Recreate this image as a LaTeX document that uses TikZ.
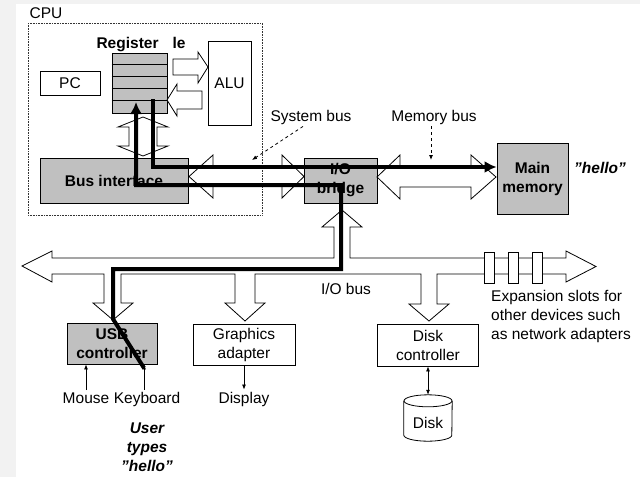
\documentclass[tikz,border=0pt]{standalone}
\usepackage{fontspec}
\setmainfont{Liberation Sans}
\usetikzlibrary{arrows.meta}
\definecolor{boxgray}{RGB}{192,192,192}

\begin{document}
\fontsize{15.5}{19}\selectfont
\begin{tikzpicture}[x=1pt,y=-1pt,
  box/.style={draw,line width=0.8pt,inner sep=0pt,align=center},
  gbox/.style={box,fill=boxgray,font=\bfseries},
  lbl/.style={inner sep=2pt,anchor=base},
  blk/.style={draw,fill=white,line width=0.8pt},
  hello/.style={line width=4pt,-{Latex[length=12pt,width=12pt]}},
  thin/.style={line width=0.8pt,-{Latex[length=5pt,width=4pt]}}]

%PAGE
\useasboundingbox (0,0) rectangle (640,477);
\fill[black!5] (0,0) rectangle (640,477);
\fill[white] (16,4) rectangle (640,477);

%BOXES
% cpu
\node[lbl] (cpulbl) at (46,18) {CPU};
\node[box,minimum width=60,minimum height=24] (pc) at (70,83) {PC};
\node[box,fill=boxgray,minimum width=55,minimum height=60] (regs) at (139.5,83) {};
\foreach \k in {1,...,4}
  \draw[line width=0.8pt] (regs.north west) ++(0,12*\k) -- ++(55,0);
\node[lbl,font=\bfseries] (reglbl) at (141,48) {Register\hspace{0.9em}le};
\node[box,minimum width=43,minimum height=84] (alu) at (229.5,83) {ALU};
\node[gbox,minimum width=148,minimum height=45] (busif) at (114,180.5) {Bus interface};
% bridge and memory
\node[gbox,minimum width=73,minimum height=45] (bridge) at (340.5,180.5) {I/O\\bridge};
\node[gbox,minimum width=71,minimum height=71] (mem) at (532.5,178.5) {Main\\memory};
\node[lbl,font=\bfseries\itshape] (hellomem) at (600,173) {\symbol{34}hello\symbol{34}};
% devices
\node[gbox,minimum width=90,minimum height=41] (usb) at (112,343.5) {USB\\controller};
\node[box,minimum width=102,minimum height=41] (gfx) at (244,344.5) {Graphics\\adapter};
\node[box,minimum width=101,minimum height=42] (dctl) at (428,345) {Disk\\controller};
\node[minimum width=48,minimum height=46,inner sep=0pt] (disk) at (428,418) {};
\draw[line width=0.8pt,fill=white] ([yshift=-6pt]disk.north west) -- ([yshift=6pt]disk.south west)
  arc[start angle=180,end angle=0,x radius=24,y radius=6] -- ([yshift=-6pt]disk.north east);
\draw[line width=0.8pt] ([yshift=-6pt]disk.north) ellipse[x radius=24,y radius=6];
\node (disklbl) at ([yshift=-5pt]disk.center) {Disk};

%LABELS
\node[lbl] (sysbus) at (311,121) {System bus};
\node[lbl] (membus) at (434,121) {Memory bus};
\node[lbl] (iobus) at (346,294) {I/O bus};
\node[anchor=north west,align=left,inner sep=0pt] (expand) at (491,290.5) {Expansion slots for\\other devices such\\as network adapters};
\node[lbl] (mouse) at (86,403) {Mouse};
\node[lbl] (kbd) at (147,403) {Keyboard};
\node[lbl] (disp) at (244,403) {Display};
\node[anchor=north,align=center,inner sep=0pt,font=\bfseries\itshape] (user) at (147,423) {User\\types\\\symbol{34}hello\symbol{34}};

%BUSES
% register file to ALU
\draw[blk] (173,59) -- (198,59) -- (198,52) -- (208,67) -- (198,83) -- (198,75) -- (173,75) -- cycle;
% ALU to register file
\draw[blk] (202,91) -- (177,91) -- (177,84) -- (167,100) -- (177,116) -- (177,109) -- (202,109) -- cycle;
% register file and bus interface
\draw[blk] (143,117) -- (168,127) -- (157,127) -- (157,146) -- (168,146) -- (143,156)
  -- (118,146) -- (129,146) -- (129,127) -- (118,127) -- cycle;
% system bus
\draw[blk] (189,176.5) -- (213,155) -- (213,167) -- (282,167) -- (282,155) -- (304,176.5)
  -- (282,198) -- (282,186) -- (213,186) -- (213,198) -- cycle;
% memory bus
\draw[blk] (377,177) -- (400,155) -- (400,167) -- (471,167) -- (471,155) -- (496,177)
  -- (471,199) -- (471,187) -- (400,187) -- (400,199) -- cycle;
% I/O bus with its branches
\draw[blk] (22,266) -- (52,251) -- (52,258) -- (334,258) -- (334,227) -- (322,227) -- (342,210)
  -- (362,227) -- (350,227) -- (350,258) -- (566,258) -- (566,251) -- (596,266.5) -- (566,282)
  -- (566,274) -- (437,274) -- (437,304) -- (449,304) -- (429,321) -- (409,304) -- (421,304)
  -- (421,274) -- (255,274) -- (255,303) -- (265,303) -- (245,321) -- (225,303) -- (235,303)
  -- (235,274) -- (121,274) -- (121,303) -- (133,303) -- (113,320) -- (93,303) -- (104,303)
  -- (104,274) -- (52,274) -- (52,282) -- cycle;
% expansion slots
\foreach \sx in {484,508,532}
  \draw[blk] (\sx,252) rectangle ++(10,31);
% cpu border
\draw[line width=0.8pt,black!80,dash pattern=on 0.8pt off 0.8pt] (28,23) rectangle (262,215);

%CONNECTORS
\coordinate (sbtip) at (252,160);
\coordinate (mbtip) at (431,160);
\draw[thin,dashed] ([xshift=-8pt]sysbus.south) -- (sbtip);
\draw[thin,dashed] (membus.south -| mbtip) -- (mbtip);
\draw[thin] (mouse.north) -- (mouse.north |- usb.south);
\draw[thin] ([xshift=-3pt]kbd.north) -- ([xshift=-3pt]kbd.north |- usb.south);
\draw[thin] (gfx.south) -- (disp.north);
\draw[thin,{Latex[length=5pt,width=4pt]}-{Latex[length=5pt,width=4pt]}] (dctl.south) -- (disk.north);

%HELLO PATH
\coordinate (kbin) at (144,368);
\coordinate (regin) at (136,102);
\coordinate (regout) at (153,99);
\draw[hello] (kbin) -- (113,319) -- (113,269) -- (341,269) -- (341,185) -- (136,185) -- (regin);
\draw[hello] (regout) -- (153,167) -- ([yshift=11.5pt]mem.west);

\end{tikzpicture}
\end{document}
